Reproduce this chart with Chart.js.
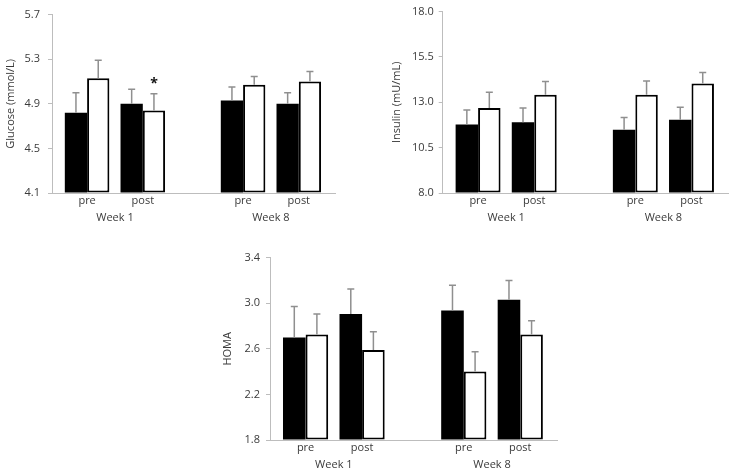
<!DOCTYPE html>
<html><head><meta charset="utf-8">
<script src="https://cdn.jsdelivr.net/npm/chart.js@4.4.1/dist/chart.umd.min.js"></script>
<style>
html,body{margin:0;padding:0;background:#fff;width:731px;height:475px;overflow:hidden}
.p{position:absolute}
</style></head><body>
<div class="p" style="left:0;top:0;width:345px;height:230px"><canvas id="c1"></canvas></div>
<div class="p" style="left:370px;top:0;width:361px;height:230px"><canvas id="c2"></canvas></div>
<div class="p" style="left:215px;top:245px;width:350px;height:230px"><canvas id="c3"></canvas></div>
<script>
// ---- data ----
const phases = ['pre', 'post', 'pre', 'post'];
const weeks = ['Week 1', 'Week 8'];

const glucoseBlack    = [4.82, 4.90, 4.93, 4.90];
const glucoseBlackErr = [0.18, 0.13, 0.12, 0.10];
const glucoseWhite    = [5.13, 4.84, 5.07, 5.10];
const glucoseWhiteErr = [0.16, 0.15, 0.075, 0.09];
const glucoseWhiteMarks = ['', '*', '', ''];
const glucoseTicks = [4.1, 4.5, 4.9, 5.3, 5.7];

const insulinBlack    = [11.77, 11.90, 11.49, 12.04];
const insulinBlackErr = [0.80, 0.78, 0.67, 0.69];
const insulinWhite    = [12.68, 13.41, 13.41, 14.03];
const insulinWhiteErr = [0.87, 0.73, 0.76, 0.61];
const insulinTicks = [8.0, 10.5, 13.0, 15.5, 18.0];

const homaBlack    = [2.70, 2.905, 2.937, 3.03];
const homaBlackErr = [0.27, 0.22, 0.22, 0.17];
const homaWhite    = [2.726, 2.59, 2.40, 2.726];
const homaWhiteErr = [0.18, 0.16, 0.175, 0.12];
const homaTicks = [1.8, 2.2, 2.6, 3.0, 3.4];

// ---- layout/style ----
const GROUP_GAP = 1.8;           // distance between the week groups (in slot units)
const slotPos = phases.map((p, i) => (i < 2 ? i : i + GROUP_GAP - 1));
const weekCenters = [(slotPos[0] + slotPos[1]) / 2, (slotPos[2] + slotPos[3]) / 2];
const TEXT = '#3a3a3a', AXIS = '#bdbdbd', ERR = '#8f8f8f';
const FONT = 'Open Sans';

const errorBars = {
  id: 'errorBars',
  afterDatasetsDraw(chart) {
    const ctx = chart.ctx, ys = chart.scales.y;
    chart.data.datasets.forEach((ds, di) => {
      const meta = chart.getDatasetMeta(di);
      meta.data.forEach((bar, i) => {
        const v = ds.data[i].y, e = ds.errors[i];
        const top = ys.getPixelForValue(v + e);
        ctx.save();
        ctx.strokeStyle = ERR; ctx.lineWidth = 1.5;
        ctx.beginPath();
        ctx.moveTo(bar.x, bar.y); ctx.lineTo(bar.x, top);
        ctx.moveTo(bar.x - 3.5, top); ctx.lineTo(bar.x + 3.5, top);
        ctx.stroke();
        if (ds.marks && ds.marks[i]) {
          ctx.fillStyle = '#111';
          ctx.font = 'bold 14px ' + FONT;
          ctx.textAlign = 'center'; ctx.textBaseline = 'middle';
          ctx.fillText(ds.marks[i], bar.x, top - 10);
        }
        ctx.restore();
      });
    });
  }
};

function makeChart(id, title, black, blackErr, white, whiteErr, whiteMarks, yTicks, lay) {
  const base = yTicks[0];
  const mk = (vals) => vals.map((v, i) => ({ x: slotPos[i], y: v }));
  new Chart(document.getElementById(id), {
    type: 'bar',
    data: {
      datasets: [
        { data: mk(black), errors: blackErr, backgroundColor: '#000', borderColor: '#000',
          borderWidth: 0, borderSkipped: false, base: base,
          categoryPercentage: 0.8, barPercentage: 1.0 },
        { data: mk(white), errors: whiteErr, marks: whiteMarks, backgroundColor: '#fff', borderColor: '#000',
          borderWidth: 2, borderSkipped: false, base: base,
          categoryPercentage: 0.8, barPercentage: 1.0 }
      ]
    },
    options: {
      responsive: true, maintainAspectRatio: false, animation: false,
      layout: { padding: { left: lay.left, right: lay.right, top: lay.top, bottom: 0 } },
      plugins: { legend: { display: false }, tooltip: { enabled: false } },
      scales: {
        x: {
          type: 'linear', offset: false, min: -0.63, max: 4.45,
          afterBuildTicks: s => {
            s.ticks = slotPos.map(v => ({ value: v })).concat(weekCenters.map(v => ({ value: v })));
          },
          ticks: {
            autoSkip: false, maxRotation: 0, minRotation: 0, padding: 0, color: TEXT,
            font: { family: FONT, size: 11, lineHeight: 1.5 },
            callback: (v, i) => (i < phases.length ? phases[i] : ['', weeks[i - phases.length]])
          },
          grid: { display: false, drawTicks: false, tickLength: 0 },
          border: { display: true, color: AXIS, width: 1 },
          afterFit: s => { s.height = lay.xh; }
        },
        y: {
          min: yTicks[0], max: yTicks[yTicks.length - 1],
          afterBuildTicks: s => { s.ticks = yTicks.map(v => ({ value: v })); },
          ticks: { callback: v => v.toFixed(1), padding: lay.tp, color: TEXT, font: { family: FONT, size: 11 } },
          grid: { display: true, drawOnChartArea: false, drawTicks: true, tickLength: 4, color: AXIS },
          border: { display: true, color: AXIS, width: 1 },
          title: { display: true, text: title, color: TEXT, font: { family: FONT, size: 11 }, padding: 0 },
          afterFit: s => { s.width = lay.yw; }
        }
      }
    },
    plugins: [errorBars]
  });
}

makeChart('c1', 'Glucose (mmol/L)', glucoseBlack, glucoseBlackErr, glucoseWhite, glucoseWhiteErr,
  glucoseWhiteMarks, glucoseTicks, { left: 4.5, right: 10, top: 6, yw: 47.5, xh: 37, tp: 8 });
makeChart('c2', 'Insulin (mU/mL)', insulinBlack, insulinBlackErr, insulinWhite, insulinWhiteErr,
  null, insulinTicks, { left: 20, right: 3, top: 6, yw: 52.7, xh: 37, tp: 5 });
makeChart('c3', 'HOMA', homaBlack, homaBlackErr, homaWhite, homaWhiteErr,
  null, homaTicks, { left: 6, right: 8, top: 10.7, yw: 49, xh: 35, tp: 6 });
</script>
</body></html>
